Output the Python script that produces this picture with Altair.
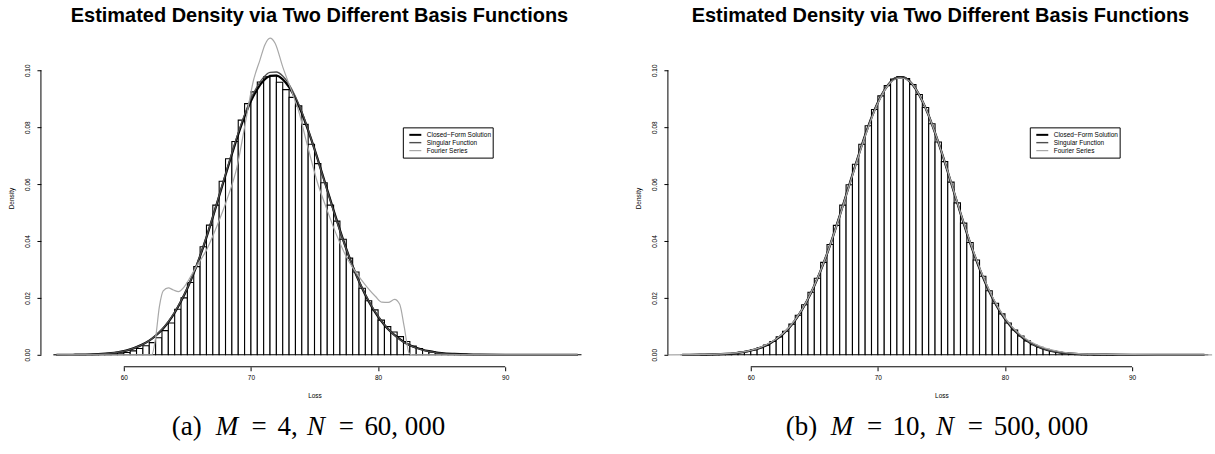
import altair as alt
import pandas as pd

# ---------------- data ----------------
bin_left = [54.5, 55.0, 55.5, 56.0, 56.5, 57.0, 57.5, 58.0, 58.5, 59.0, 59.5, 60.0, 60.5, 61.0, 61.5,
            62.0, 62.5, 63.0, 63.5, 64.0, 64.5, 65.0, 65.5, 66.0, 66.5, 67.0, 67.5, 68.0, 68.5, 69.0,
            69.5, 70.0, 70.5, 71.0, 71.5, 72.0, 72.5, 73.0, 73.5, 74.0, 74.5, 75.0, 75.5, 76.0, 76.5,
            77.0, 77.5, 78.0, 78.5, 79.0, 79.5, 80.0, 80.5, 81.0, 81.5, 82.0, 82.5, 83.0, 83.5, 84.0,
            84.5, 85.0, 85.5, 86.0, 86.5, 87.0, 87.5, 88.0, 88.5, 89.0, 89.5, 90.0, 90.5, 91.0, 91.5,
            92.0, 92.5, 93.0, 93.5, 94.0, 94.5, 95.0, 95.5]
bin_width = 0.5

hist_a = [0.00001, 0.00002, 0.00003, 0.00004, 0.00006, 0.0001, 0.00015, 0.0002, 0.0003, 0.0004,
          0.0006, 0.0008, 0.0014, 0.0022, 0.0032, 0.0043, 0.0060, 0.0085, 0.0112, 0.0160,
          0.0200, 0.0254, 0.0310, 0.0380, 0.0456, 0.0526, 0.0610, 0.0689, 0.0750, 0.0825,
          0.0883, 0.0924, 0.0959, 0.0977, 0.0982, 0.0958, 0.0932, 0.0905, 0.0875, 0.0810,
          0.0740, 0.0672, 0.0605, 0.0526, 0.0470, 0.0406, 0.0340, 0.0291, 0.0234, 0.0190,
          0.0158, 0.0122, 0.0099, 0.0080, 0.0064, 0.0047, 0.0031, 0.0022, 0.0015, 0.0010,
          0.0007, 0.0004, 0.0003, 0.0002, 0.00015, 0.0001, 0.00007, 0.00005, 0.00003, 0.00002,
          0.00001, 0.00001, 0.0, 0.0, 0.0, 0.0, 0.0, 0.0, 0.0, 0.0, 0.0, 0.0, 0.0]

hist_b = [0.000015, 0.000025, 0.00004, 0.000065, 0.0001, 0.00016, 0.00025, 0.00038, 0.00057, 0.00085,
          0.0012, 0.0018, 0.0025, 0.0034, 0.0047, 0.0063, 0.0083, 0.0108, 0.0139, 0.0176,
          0.0220, 0.0269, 0.0325, 0.0388, 0.0455, 0.0526, 0.0598, 0.0670, 0.0740, 0.0805,
          0.0862, 0.0910, 0.0946, 0.0969, 0.0978, 0.0971, 0.0950, 0.0915, 0.0869, 0.0812,
          0.0748, 0.0679, 0.0607, 0.0534, 0.0463, 0.0395, 0.0333, 0.0276, 0.0225, 0.0181,
          0.0144, 0.0112, 0.0087, 0.0066, 0.0049, 0.0036, 0.0026, 0.0019, 0.0013, 0.0009,
          0.0006, 0.0004, 0.0003, 0.0002, 0.00011, 0.00007, 0.00004, 0.000026, 0.000016, 0.00001,
          0.000006, 0.000004, 0.000003, 0.000002, 0.000001, 0.000001, 0.0, 0.0, 0.0, 0.0,
          0.0, 0.0, 0.0]

curve_x_a = [54.7, 56.0, 57.0, 58.0, 59.0, 59.5, 60.0, 60.5, 61.0, 61.5, 62.0, 62.5, 63.0, 63.5,
             64.0, 64.5, 65.0, 65.5, 66.0, 66.5, 67.0, 67.5, 68.0, 68.5, 69.0, 69.5, 70.0, 70.5,
             71.0, 71.5, 72.0, 72.5, 73.0, 73.5, 74.0, 74.5, 75.0, 75.5, 76.0, 76.5, 77.0, 77.5,
             78.0, 78.5, 79.0, 79.5, 80.0, 80.5, 81.0, 81.5, 82.0, 82.5, 83.0, 83.5, 84.0, 84.5,
             85.0, 86.0, 87.0, 88.0, 90.0, 92.0, 95.7]
closed_a = [0.0, 0.00003, 0.0001, 0.00025, 0.0006, 0.0009, 0.0013, 0.0019, 0.0027, 0.0037, 0.0050,
            0.0067, 0.0088, 0.0115, 0.0148, 0.0188, 0.0234, 0.0287, 0.0347, 0.0413, 0.0484, 0.0558,
            0.0632, 0.0705, 0.0775, 0.0838, 0.0892, 0.0934, 0.0964, 0.0980, 0.0981, 0.0968, 0.0941,
            0.0901, 0.0850, 0.0789, 0.0723, 0.0652, 0.0580, 0.0508, 0.0438, 0.0372, 0.0312, 0.0258,
            0.0210, 0.0169, 0.0134, 0.0105, 0.0081, 0.0062, 0.0046, 0.0034, 0.0025, 0.0018, 0.0013,
            0.0009, 0.0006, 0.0003, 0.00013, 0.00005, 0.00001, 0.0, 0.0]
singular_a = [0.0, 0.00003, 0.0001, 0.00025, 0.0006, 0.0009, 0.0013, 0.0019, 0.0027, 0.0037, 0.0050,
              0.0068, 0.0090, 0.0117, 0.0150, 0.0190, 0.0236, 0.0289, 0.0349, 0.0415, 0.0486, 0.0561,
              0.0636, 0.0710, 0.0781, 0.0845, 0.0901, 0.0944, 0.0976, 0.0993, 0.0994, 0.0980, 0.0951,
              0.0908, 0.0854, 0.0791, 0.0722, 0.0650, 0.0577, 0.0505, 0.0436, 0.0371, 0.0312, 0.0259,
              0.0212, 0.0171, 0.0136, 0.0106, 0.0081, 0.0061, 0.0045, 0.0033, 0.0024, 0.0017, 0.0012,
              0.0008, 0.0005, 0.0002, 0.0001, 0.00004, 0.0, 0.0, 0.0]
fourier_x_a = [54.7, 62.2, 62.5, 62.8, 63.1, 63.5, 63.9, 64.3, 64.7, 65.1, 65.7, 66.5, 67.3, 68.1,
               68.9, 69.6, 70.2, 70.7, 71.1, 71.5, 71.9, 72.5, 73.3, 73.8, 74.3, 74.8, 75.2, 75.9,
               76.7, 77.5, 78.3, 79.1, 79.8, 80.3, 80.8, 81.3, 81.7, 82.05, 82.45, 82.7, 95.7]
fourier_a = [0.0, 0.0, 0.006, 0.017, 0.0225, 0.0235, 0.0228, 0.0222, 0.0236, 0.0263, 0.031, 0.0368,
             0.045, 0.0544, 0.066, 0.0825, 0.0965, 0.1035, 0.109, 0.1113, 0.1095, 0.1012, 0.0915,
             0.0850, 0.0760, 0.0675, 0.0610, 0.0520, 0.0425, 0.0345, 0.0287, 0.0240, 0.0205,
             0.0185, 0.0184, 0.0195, 0.0178, 0.0100, 0.0005, 0.0, 0.0]

curve_x_b = [54.6, 56.0, 57.0, 58.0, 59.0, 59.5, 60.0, 60.5, 61.0, 61.5, 62.0, 62.5, 63.0, 63.5,
             64.0, 64.5, 65.0, 65.5, 66.0, 66.5, 67.0, 67.5, 68.0, 68.5, 69.0, 69.5, 70.0, 70.5,
             71.0, 71.5, 72.0, 72.5, 73.0, 73.5, 74.0, 74.5, 75.0, 75.5, 76.0, 76.5, 77.0, 77.5,
             78.0, 78.5, 79.0, 79.5, 80.0, 80.5, 81.0, 81.5, 82.0, 82.5, 83.0, 83.5, 84.0, 84.5,
             85.0, 86.0, 87.0, 88.0, 90.0, 92.0, 95.7]
closed_b = [0.0, 0.00005, 0.00013, 0.0003, 0.0007, 0.0010, 0.0015, 0.0021, 0.0029, 0.0040, 0.0054,
            0.0072, 0.0094, 0.0122, 0.0156, 0.0196, 0.0243, 0.0296, 0.0355, 0.0420, 0.0489, 0.0561,
            0.0633, 0.0704, 0.0772, 0.0834, 0.0887, 0.0929, 0.0959, 0.0974, 0.0975, 0.0961, 0.0933,
            0.0892, 0.0841, 0.0780, 0.0714, 0.0643, 0.0570, 0.0498, 0.0428, 0.0363, 0.0303, 0.0249,
            0.0201, 0.0160, 0.0126, 0.0098, 0.0075, 0.0056, 0.0042, 0.0030, 0.0022, 0.0015, 0.0011,
            0.0007, 0.0005, 0.0002, 0.0001, 0.00004, 0.00001, 0.0, 0.0]
singular_b = [0.0, 0.00005, 0.00013, 0.0003, 0.0007, 0.0010, 0.0015, 0.0021, 0.0030, 0.0041, 0.0055,
              0.0073, 0.0095, 0.0123, 0.0157, 0.0197, 0.0244, 0.0297, 0.0356, 0.0421, 0.0490, 0.0562,
              0.0634, 0.0705, 0.0773, 0.0835, 0.0888, 0.0930, 0.0960, 0.0975, 0.0976, 0.0962, 0.0934,
              0.0893, 0.0842, 0.0781, 0.0715, 0.0644, 0.0571, 0.0499, 0.0429, 0.0364, 0.0304, 0.0250,
              0.0202, 0.0161, 0.0127, 0.0099, 0.0076, 0.0057, 0.0042, 0.0030, 0.0022, 0.0015, 0.0011,
              0.0007, 0.0005, 0.0002, 0.0001, 0.00004, 0.00001, 0.0, 0.0]
fourier_x_b = [53.5, 56.0, 58.0, 59.0, 60.0, 61.0, 62.0, 63.0, 64.0, 65.0, 66.0, 67.0, 68.0, 69.0,
               70.0, 71.0, 71.8, 72.5, 73.5, 74.5, 75.5, 76.5, 77.5, 78.5, 79.5, 80.5, 81.5, 82.5,
               83.5, 84.5, 85.5, 87.0, 89.0, 92.0, 96.3]
fourier_b = [0.0, 0.0001, 0.0004, 0.0008, 0.0016, 0.0031, 0.0056, 0.0096, 0.0157, 0.0244, 0.0355,
             0.0487, 0.0630, 0.0768, 0.0884, 0.0957, 0.0973, 0.0961, 0.0893, 0.0781, 0.0645, 0.0500,
             0.0366, 0.0253, 0.0164, 0.0102, 0.0061, 0.0035, 0.0019, 0.0010, 0.0005, 0.0002, 0.0001,
             0.0, 0.0]

x_ticks = [60, 70, 80, 90]
y_ticks = [0.0, 0.02, 0.04, 0.06, 0.08, 0.10]
legend_labels = ["Closed\u2212Form Solution", "Singular Function", "Fourier Series"]
legend_colors = ["#000000", "#4d4d4d", "#a8a8a8"]
legend_widths = [2.0, 1.4, 1.2]
title_text = "Estimated Density via Two Different Basis Functions"
caption_a = [("(a)", 131, "left", "normal"), ("M", 175, "left", "italic"), ("=", 218.5, "center", "normal"),
             ("4,", 237, "left", "normal"), ("N", 266.5, "left", "italic"), ("=", 306, "center", "normal"),
             ("60, 000", 324, "left", "normal")]
caption_b = [("(b)", 118, "left", "normal"), ("M", 163, "left", "italic"), ("=", 207, "center", "normal"),
             ("10,", 225, "left", "normal"), ("N", 268.5, "left", "italic"), ("=", 308, "center", "normal"),
             ("500, 000", 326.5, "left", "normal")]

SANS = "Liberation Sans"
SERIF = "Liberation Serif"
PLOT_H = 338
X_MIN = 53.48
Y_DOM = [-0.0042, 0.1144]


def one(label):
    return pd.DataFrame({"t": [label]})


def panel(hist, cx, closed, singular, fx, fourier, width, xmax, caption, left_pad):
    xs = alt.Scale(domain=[X_MIN, xmax], nice=False, zero=False)
    ys = alt.Scale(domain=Y_DOM, nice=False, zero=False)
    x_axis = alt.Axis(values=x_ticks, title="Loss", domain=False, grid=False, tickSize=4,
                      tickColor="black", tickWidth=1, labelFont=SANS, labelFontSize=6.5,
                      labelColor="black", labelPadding=4, labelFlush=False, labelOverlap=False,
                      titleFont=SANS, titleFontSize=6.5, titleFontWeight="normal", titleColor="black",
                      titleX=274, titleY=29, titleAlign="center", titleBaseline="middle")
    y_axis = alt.Axis(values=y_ticks, format=".2f", title="Density", domain=False, grid=False,
                      tickSize=4, tickColor="black", tickWidth=1, labelFont=SANS, labelFontSize=6.5,
                      labelColor="black", labelAngle=270, labelAlign="center", labelBaseline="bottom",
                      labelPadding=6, labelFlush=False, labelOverlap=False,
                      titleFont=SANS, titleFontSize=6.5, titleFontWeight="normal", titleColor="black",
                      titleAngle=270, titleX=-29, titleY=169, titleAlign="center", titleBaseline="middle")

    bars_df = pd.DataFrame({"left": bin_left, "density": hist})
    bars_df["right"] = bars_df["left"] + bin_width
    bars_df["base"] = 0.0
    bars = alt.Chart(bars_df).mark_rect(fill="white", stroke="black", strokeWidth=1.1).encode(
        x=alt.X("left:Q", scale=xs, axis=x_axis),
        x2="right:Q",
        y=alt.Y("base:Q", scale=ys, axis=y_axis),
        y2="density:Q",
    )

    def line(xv, yv, color, w):
        d = pd.DataFrame({"x": xv, "y": yv})
        return alt.Chart(d).mark_line(color=color, strokeWidth=w, interpolate="monotone").encode(
            x=alt.X("x:Q", scale=xs), y=alt.Y("y:Q", scale=ys))

    l_closed = line(cx, closed, legend_colors[0], 2.2)
    l_sing = line(cx, singular, legend_colors[1], 1.3)
    l_four = line(fx, fourier, legend_colors[2], 1.2)

    # axis lines spanning first to last tick, like R
    xr = alt.Chart(pd.DataFrame({"a": [x_ticks[0]], "b": [x_ticks[-1]]})).mark_rule(
        color="black", strokeWidth=1).encode(x=alt.X("a:Q", scale=xs), x2="b:Q", y=alt.value(PLOT_H))
    yr = alt.Chart(pd.DataFrame({"a": [y_ticks[0]], "b": [y_ticks[-1]]})).mark_rule(
        color="black", strokeWidth=1).encode(y=alt.Y("a:Q", scale=ys), y2="b:Q", x=alt.value(0))

    # invisible frame fixing the page bounds
    frame = alt.Chart(one("")).mark_rect(opacity=0).encode(
        x=alt.value(-left_pad), x2=alt.value(width), y=alt.value(-29), y2=alt.value(425))

    title = alt.Chart(one(title_text)).mark_text(
        font=SANS, fontSize=20, fontWeight="bold", align="center", baseline="alphabetic",
        color="black").encode(text="t:N", x=alt.value(279 if left_pad else 273), y=alt.value(-7))

    # legend box
    box = alt.Chart(one("")).mark_rect(fill="white", stroke="black", strokeWidth=1).encode(
        x=alt.value(363), x2=alt.value(453), y=alt.value(98.7), y2=alt.value(129))
    leg = [box]
    rows_y = [105.7, 113.5, 121.5]
    for lab, col, w, ry in zip(legend_labels, legend_colors, legend_widths, rows_y):
        leg.append(alt.Chart(one(lab)).mark_rule(color=col, strokeWidth=w).encode(
            x=alt.value(369), x2=alt.value(381), y=alt.value(ry)))
        leg.append(alt.Chart(one(lab)).mark_text(font=SANS, fontSize=6.5, align="left",
                                                  baseline="middle", color="black").encode(
            text="t:N", x=alt.value(386.5), y=alt.value(ry)))

    cap = []
    for txt, xp, al, st in caption:
        cap.append(alt.Chart(one(txt)).mark_text(font=SERIF, fontSize=27, fontStyle=st, align=al,
                                                  baseline="alphabetic", color="black").encode(
            text="t:N", x=alt.value(xp), y=alt.value(406)))

    return alt.layer(frame, bars, l_closed, l_sing, l_four, xr, yr, title, *leg, *cap).properties(
        width=width, height=PLOT_H)


pa = panel(hist_a, curve_x_a, closed_a, singular_a, fourier_x_a, fourier_a, 558, 97.3, caption_a, 41)
pb = panel(hist_b, curve_x_b, closed_b, singular_b, fourier_x_b, fourier_b, 546, 96.37, caption_b, 0)

chart = alt.hconcat(pa, pb, spacing=70, bounds="flush").properties(
    padding=0, background="white", autosize=alt.AutoSizeParams(type="pad")
).configure_view(stroke="transparent", strokeWidth=0)

chart.save("out.html", embed_options={"renderer": "svg", "actions": False})
